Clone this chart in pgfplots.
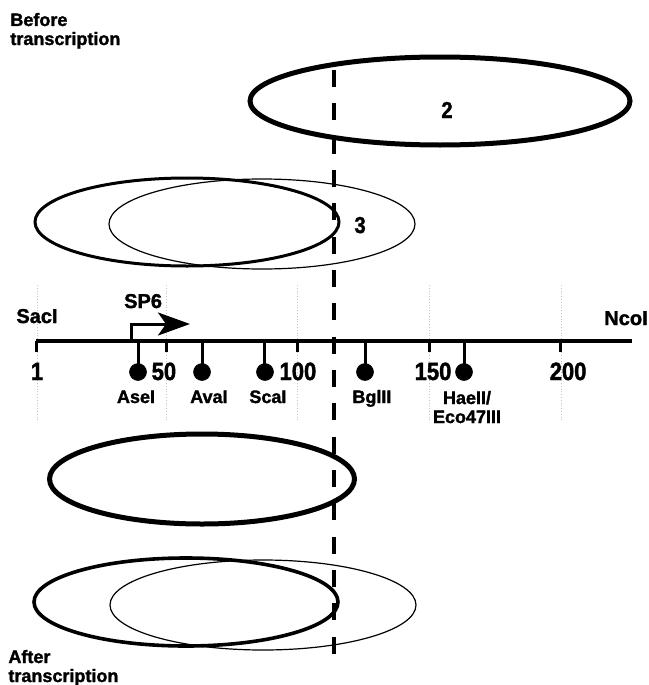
\documentclass[border=0pt]{standalone}
\usepackage{fontspec}
\setmainfont{Liberation Sans}[BoldFeatures={FakeBold=1.6}]
\newfontfamily\condfont{Liberation Sans}[FakeStretch=0.88, BoldFeatures={FakeBold=1.6}]
\usepackage{pgfplots}
\pgfplotsset{compat=1.18}
\usetikzlibrary{arrows.meta}
\begin{document}
\begin{tikzpicture}[
  lab/.style={font=\fontsize{9}{9.5}\selectfont\bfseries, inner sep=0pt, anchor=base},
  num/.style={font=\condfont\fontsize{12.5}{13}\selectfont\bfseries, inner sep=0pt, anchor=base},
  big/.style={font=\condfont\fontsize{11.5}{12}\selectfont\bfseries, inner sep=0pt, anchor=base},
  site/.style={font=\fontsize{10}{11}\selectfont\bfseries, inner sep=0pt, anchor=base}]
\begin{axis}[name=ax, width=324pt, height=342.5pt, scale only axis,
  xmin=-13.05, xmax=233.05, ymin=0, ymax=685, y dir=reverse,
  hide axis, clip=false]
% faint dotted guide lines at the ticks
\addplot[gray!45, densely dotted, line width=0.4pt, forget plot] coordinates {(1,285) (1,420)};
\addplot[gray!45, densely dotted, line width=0.4pt, forget plot] coordinates {(50,285) (50,420)};
\addplot[gray!45, densely dotted, line width=0.4pt, forget plot] coordinates {(100,285) (100,420)};
\addplot[gray!45, densely dotted, line width=0.4pt, forget plot] coordinates {(150,285) (150,420)};
\addplot[gray!45, densely dotted, line width=0.4pt, forget plot] coordinates {(200,285) (200,420)};
% ellipses (before transcription)
\draw[line width=2.5pt] (axis cs:154.06,101) ellipse [x radius=95pt, y radius=22pt];
\draw[line width=1.5pt] (axis cs:57.97,222) ellipse [x radius=76pt, y radius=22pt];
\draw[line width=0.6pt] (axis cs:86.45,224) ellipse [x radius=76.5pt, y radius=22.5pt];
% ellipses (after transcription)
\draw[line width=2.5pt] (axis cs:63.67,479) ellipse [x radius=76.25pt, y radius=22.5pt];
\draw[line width=1.8pt] (axis cs:57.59,602) ellipse [x radius=76pt, y radius=22pt];
\draw[line width=0.6pt] (axis cs:86.83,605) ellipse [x radius=76.5pt, y radius=22.5pt];
% dashed line
\addplot[black, line width=2pt, dash pattern=on 8.5pt off 8.17pt] coordinates {(113.8,70) (113.8,654)};
% main map line
\addplot[black, line width=2pt] coordinates {(0.81,341) (227,341)};
% ticks
\addplot[black, line width=1.5pt] coordinates {(1,341) (1,352)};
\addplot[black, line width=1.5pt] coordinates {(50,341) (50,352)};
\addplot[black, line width=1.5pt] coordinates {(100,341) (100,352)};
\addplot[black, line width=1.5pt] coordinates {(150,341) (150,352)};
\addplot[black, line width=1.5pt] coordinates {(200,341) (200,352)};
% restriction sites (lollipops)
\addplot[black, only marks, mark=*, mark size=4.2pt,
  error bars/.cd, y dir=minus, y explicit, error mark=none,
  error bar style={line width=1.5pt}]
  coordinates {(39.36,372) -= (0,31)
               (63.67,372) -= (0,31)
               (87.59,372) -= (0,31)
               (125.57,372) -= (0,31)
               (163.17,372) -= (0,31)};
% SP6 promoter arrow
\addplot[black, line width=1.5pt, -{Stealth[length=16pt, width=11.5pt, inset=4pt]}]
  coordinates {(37.08,341) (37.08,324) (59.1,324)};
% labels
\node[num] at (axis cs:1,380) {1};
\node[num] at (axis cs:49.2,380) {50};
\node[num] at (axis cs:100.1,380) {100};
\node[num] at (axis cs:151.4,380) {150};
\node[num] at (axis cs:202.7,380) {200};
\node[lab] at (axis cs:38.6,403) {AseI};
\node[lab] at (axis cs:66.3,403) {AvaI};
\node[lab] at (axis cs:88.7,403) {ScaI};
\node[lab] at (axis cs:128.2,403) {BglII};
\node[lab, align=center] at (axis cs:164.3,423) {HaeII/\\Eco47III};
\node[site] at (axis cs:1,323) {SacI};
\node[site] at (axis cs:224.7,325) {NcoI};
\node[site] at (axis cs:41.3,308) {SP6};
\node[big] at (axis cs:156.7,118) {2};
\node[big] at (axis cs:123.7,233) {3};
\node[lab, align=left, anchor=base west] at (axis cs:-9.25,45) {Before\\transcription};
\node[lab, align=left, anchor=base west] at (axis cs:-10.0,682) {After\\transcription};
\end{axis}
\pgfresetboundingbox
\path[use as bounding box] (ax.south west) rectangle (ax.north east);
\end{tikzpicture}
\end{document}
